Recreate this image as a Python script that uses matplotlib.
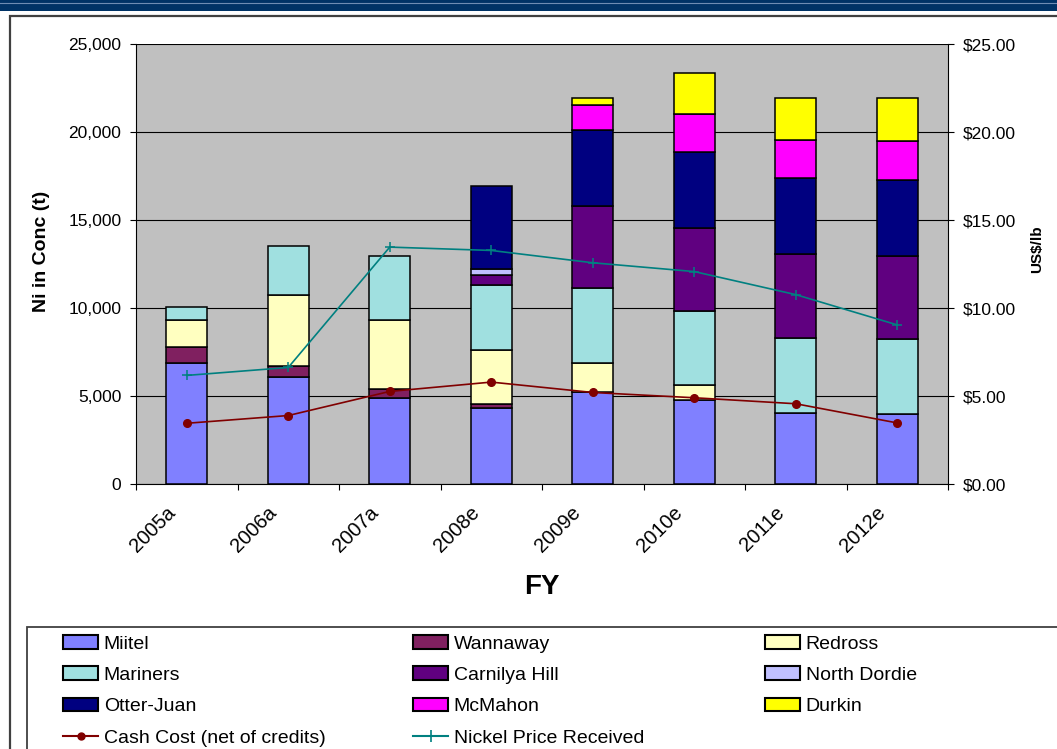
import numpy as np
import matplotlib
matplotlib.use('Agg')
import matplotlib.pyplot as plt
from matplotlib.patches import Rectangle, Patch
from matplotlib.lines import Line2D
from matplotlib.ticker import FuncFormatter, MultipleLocator, FixedLocator
from matplotlib.transforms import ScaledTranslation

plt.rcParams['font.family'] = ['Liberation Sans', 'DejaVu Sans']

# финансовые годы
years = ['2005a', '2006a', '2007a', '2008e', '2009e', '2010e', '2011e', '2012e']

# никель в концентрате по рудникам, т
miitel = [6850, 6100, 4900, 4300, 5200, 4800, 4050, 3970]
wannaway = [950, 600, 520, 250, 0, 0, 0, 0]
redross = [1520, 4050, 3890, 3070, 1670, 800, 0, 0]
mariners = [720, 2800, 3630, 3660, 4250, 4250, 4250, 4290]
carnilya_hill = [0, 0, 0, 570, 4690, 4690, 4770, 4690]
north_dordie = [0, 0, 0, 360, 0, 0, 0, 0]
otter_juan = [0, 0, 0, 4750, 4330, 4350, 4290, 4330]
mcmahon = [0, 0, 0, 0, 1370, 2160, 2200, 2200]
durkin = [0, 0, 0, 0, 400, 2290, 2370, 2430]

# US$/lb
cash_cost = [3.45, 3.89, 5.26, 5.79, 5.20, 4.90, 4.56, 3.47]
nickel_price = [6.17, 6.62, 13.46, 13.27, 12.57, 12.07, 10.76, 9.04]

mines = [
    ('Miitel', miitel, '#8080FF'),
    ('Wannaway', wannaway, '#802060'),
    ('Redross', redross, '#FFFFC0'),
    ('Mariners', mariners, '#A0E0E0'),
    ('Carnilya Hill', carnilya_hill, '#600080'),
    ('North Dordie', north_dordie, '#C0C0FF'),
    ('Otter-Juan', otter_juan, '#000080'),
    ('McMahon', mcmahon, '#FF00FF'),
    ('Durkin', durkin, '#FFFF00'),
]

W, H = 1057, 749
fig = plt.figure(figsize=(W / 100, H / 100), dpi=100, facecolor='white')


def fx(px):
    return px / W


def fy(py):
    return 1 - py / H


# шапка и рамка вокруг диаграммы
fig.patches.append(Rectangle((0, fy(11)), 1, 1, transform=fig.transFigure,
                             facecolor='#003366', edgecolor='none', zorder=0))
fig.add_artist(Line2D([0, 1], [fy(2.5), fy(2.5)], transform=fig.transFigure,
                      color='#6E8DB3', lw=0.8))
fig.patches.append(Rectangle((fx(10), fy(800)), fx(1100), fy(16) - fy(800),
                             transform=fig.transFigure, facecolor='none',
                             edgecolor='#404040', lw=1.6, zorder=1))
fig.patches.append(Rectangle((fx(27), fy(800)), fx(1100), fy(627) - fy(800),
                             transform=fig.transFigure, facecolor='none',
                             edgecolor='#404040', lw=1.3, zorder=1))

ax = fig.add_axes([fx(136), fy(484), fx(948) - fx(136), fy(44) - fy(484)])
ax.set_facecolor('#C0C0C0')

x = np.arange(len(years))
bottom = np.zeros(len(years))
for name, vals, color in mines:
    vals = np.array(vals, dtype=float)
    m = vals > 0
    ax.bar(x[m], vals[m], bottom=bottom[m], width=0.4, color=color,
           edgecolor='black', linewidth=1.1, zorder=3)
    bottom += vals

ax.set_xlim(-0.5, len(years) - 0.5)
ax.set_ylim(0, 25000)
ax.yaxis.set_major_locator(MultipleLocator(5000))
ax.yaxis.set_major_formatter(FuncFormatter(lambda v, p: f'{v:,.0f}'))
ax.set_axisbelow(True)
ax.grid(axis='y', color='black', lw=0.8, zorder=0)

ax.set_xticks(x)
ax.set_xticklabels(years, rotation=45, ha='right', va='top', fontsize=14.5)
ax.xaxis.set_minor_locator(FixedLocator(np.arange(-0.5, len(years), 1.0)))
ax.tick_params(axis='x', which='major', length=0, pad=13.5)
ax.tick_params(axis='x', which='minor', length=4.5, width=0.8, direction='out')
ax.tick_params(axis='y', length=4.5, width=0.8, direction='out', pad=6,
               labelsize=12.5)
for lab in ax.get_xticklabels():
    lab.set_transform(lab.get_transform() +
                      ScaledTranslation(-8 / 100, 0, fig.dpi_scale_trans))

for s in ['top', 'right']:
    ax.spines[s].set_visible(False)
for s in ['left', 'bottom']:
    ax.spines[s].set_linewidth(0.8)

# правая ось: себестоимость и цена никеля
ax2 = ax.twinx()
ax2.plot(x, cash_cost, color='#800000', lw=1.2, marker='o', ms=5.5, zorder=4)
ax2.plot(x, nickel_price, color='#008080', lw=1.2, marker='+', ms=7.5,
         mew=1.1, zorder=4)
ax2.set_ylim(0, 25)
ax2.yaxis.set_major_locator(MultipleLocator(5))
ax2.yaxis.set_major_formatter(FuncFormatter(lambda v, p: f'${v:.2f}'))
ax2.tick_params(axis='y', length=4.5, width=0.8, direction='out', pad=6,
                labelsize=12.5)
for s in ['top', 'left', 'bottom']:
    ax2.spines[s].set_visible(False)
ax2.spines['right'].set_linewidth(0.8)

fig.text(fx(42), fy(251), 'Ni in Conc (t)', rotation=90, fontsize=14,
         fontweight='bold', ha='center', va='center')
fig.text(fx(1037), fy(249), 'US$/lb', rotation=90, fontsize=11,
         fontweight='bold', ha='center', va='center')
fig.text(fx(542), fy(587), 'FY', fontsize=20, fontweight='bold',
         ha='center', va='center')

# легенда: три колонки с фиксированным шагом
handles = [Patch(facecolor=c, edgecolor='black', lw=1.5) for _, _, c in mines]
labels = [n for n, _, _ in mines]
handles += [Line2D([], [], color='#800000', lw=1.5, marker='o', ms=5),
            Line2D([], [], color='#008080', lw=1.5, marker='+', ms=8, mew=1.2)]
labels += ['Cash Cost (net of credits)', 'Nickel Price Received']

columns = [[0, 3, 6, 9], [1, 4, 7, 10], [2, 5, 8]]
col_x = [63, 413, 765]
for cx, idx in zip(col_x, columns):
    fig.legend([handles[i] for i in idx], [labels[i] for i in idx],
               loc='upper left', bbox_to_anchor=(fx(cx), fy(635)),
               frameon=False, fontsize=14, borderpad=0, borderaxespad=0,
               handlelength=1.8, handleheight=0.7, handletextpad=0.3,
               labelspacing=0.71)

fig.savefig('out.png', dpi=100, facecolor='white')
